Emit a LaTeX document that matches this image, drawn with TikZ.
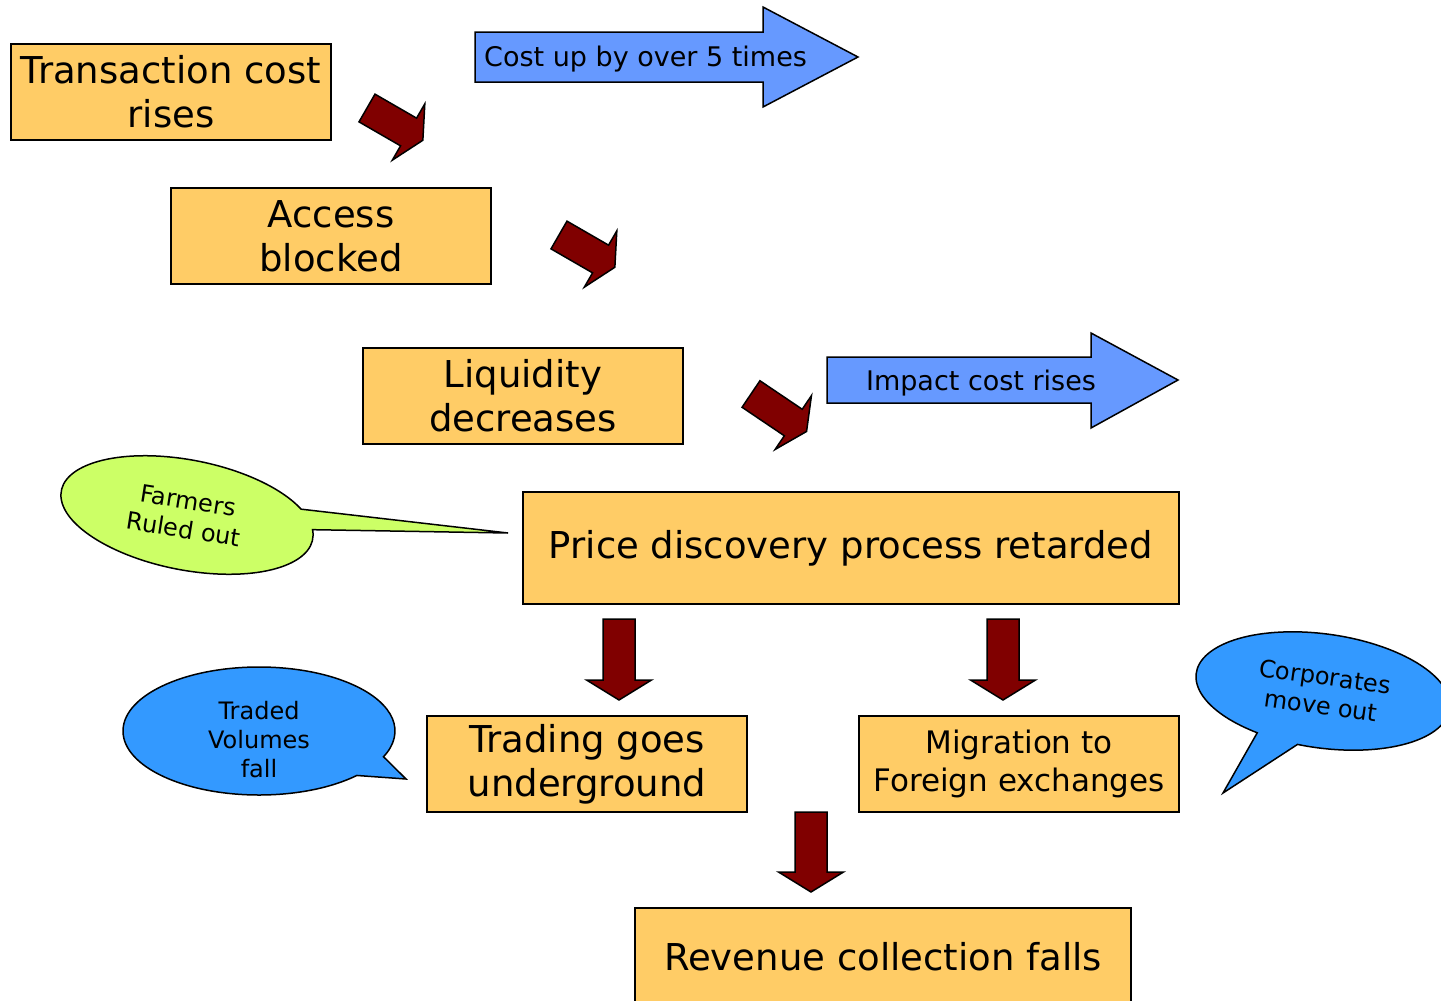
\documentclass[tikz,border=0pt]{standalone}
\usepackage{fontspec}
\setmainfont{DejaVu Sans}
\usepackage{tikz}

\definecolor{boxorange}{HTML}{FFCC66}
\definecolor{arrowblue}{HTML}{6699FF}
\definecolor{bubbleblue}{HTML}{3399FF}
\definecolor{bubblegreen}{HTML}{CCFF66}
\definecolor{darkred}{HTML}{800000}

\newcommand{\boxfont}{\fontsize{37}{44}\selectfont}
\newcommand{\midfont}{\fontsize{31}{38}\selectfont}
\newcommand{\arrowfont}{\fontsize{27}{32}\selectfont}
\newcommand{\bubblefont}{\fontsize{24}{29}\selectfont}

\tikzset{
  stepbox/.style={draw,line width=1.5pt,fill=boxorange,font=\boxfont,align=center,
    inner sep=2pt,minimum width=320pt,minimum height=96pt},
  bluearrow/.style={draw,line width=1.5pt,fill=arrowblue,line join=miter},
  redarrow/.style={draw,line width=1.5pt,fill=darkred,line join=miter},
  bubble/.style={draw,line width=1.5pt},
  bubbletext/.style={font=\bubblefont,align=center,inner sep=0pt},
}

% block arrow: start point, angle, shaft length, head length
\newcommand{\redarrow}[4]{%
  \draw[redarrow,shift={#1},rotate=#2] (0,-16)--(#3,-16)--(#3,-32.5)--({#3+#4},0)--(#3,32.5)--(#3,16)--(0,16)--cycle;}

\begin{document}
\begin{tikzpicture}[x=1pt,y=-1pt]
    \useasboundingbox (0,0) rectangle (1441,1001);
    \clip (0,0) rectangle (1441,1001);

    % big blue arrows
    \draw[bluearrow] (475,32)--(763,32)--(763,7)--(858,57)--(763,107)--(763,82)--(475,82)--cycle;
    \node[font=\arrowfont,anchor=west,inner sep=0pt] (costup) at (484,59) {Cost up by over 5 times};
    \draw[bluearrow] (827,357)--(1091,357)--(1091,333)--(1178,380)--(1091,428)--(1091,403)--(827,403)--cycle;
    \node[font=\arrowfont,inner sep=0pt] (impact) at (981,383) {Impact cost rises};

    % dark red arrows
    \redarrow{(367,108)}{-30}{48}{16.5}
    \redarrow{(559,235)}{-30}{48}{16.5}
    \redarrow{(751,394)}{-34}{51}{16}
    \redarrow{(619,619)}{-90}{61}{20}
    \redarrow{(1003,619)}{-90}{61}{20}
    \redarrow{(811,812)}{-90}{60}{20}

    % boxes
    \node[stepbox] (cost) at (171,92) {Transaction cost\\rises};
    \node[stepbox] (access) at (331,236) {Access\\blocked};
    \node[stepbox] (liquidity) at (523,396) {Liquidity\\decreases};
    \node[stepbox,minimum width=656pt,minimum height=112pt] (price) at (851,548) {Price discovery process retarded};
    \node[stepbox] (underground) at (587,764) {Trading goes\\underground};
    \node[stepbox,font=\midfont] (migration) at (1019,764) {Migration to\\Foreign exchanges};
    \node[stepbox,minimum width=496pt,minimum height=98pt] (revenue) at (883,957) {Revenue collection falls};

    % speech bubbles
    \coordinate (farmtip) at (508,533);
    \draw[bubble,fill=bubblegreen,shift={(187,515)},rotate=-11] (-10:128 and 55)
        arc[start angle=-10,end angle=330,x radius=128,y radius=55] -- (farmtip) -- cycle;
    \node[bubbletext,rotate=-9] (farmers) at (186,515) {Farmers\\Ruled out};

    \coordinate (tradetip) at (406,779);
    \draw[bubble,fill=bubbleblue,shift={(259,731)}] (44:136 and 64)
        arc[start angle=44,end angle=383.7,x radius=136,y radius=64] -- (tradetip) -- cycle;
    \node[bubbletext] (volumes) at (259,740) {Traded\\Volumes\\fall};

    \coordinate (corptip) at (1223,793);
    \draw[bubble,fill=bubbleblue,shift={(1323,691)},rotate=-8] (117.6:128 and 57)
        arc[start angle=117.6,end angle=458,x radius=128,y radius=57] -- (corptip) -- cycle;
    \node[bubbletext,rotate=-8] (corporates) at (1323,691) {Corporates\\move out};
\end{tikzpicture}
\end{document}
